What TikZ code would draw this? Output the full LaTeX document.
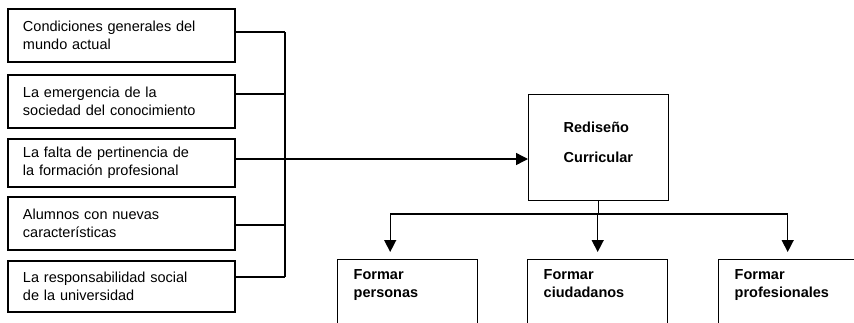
\documentclass[tikz,border=0pt]{standalone}
\usepackage{fontspec}
\setmainfont{Liberation Sans}
\usetikzlibrary{arrows.meta}
\tikzstyle{link} = [line width=1.4pt]
\tikzstyle{tri} = [-{Triangle[width=12pt,length=12pt]}]
\tikzstyle{cause} = [draw,line width=1.4pt,align=left,text width=197pt,inner xsep=15pt,minimum height=53pt,font=\fontsize{14.5}{18}\selectfont]
\tikzstyle{core} = [draw,line width=1.4pt,anchor=north west,align=left,text width=70pt,inner xsep=35pt,inner ysep=27pt,text depth=41pt,font=\bfseries\fontsize{14.5}{18}\selectfont]
\tikzstyle{goal} = [draw,line width=1.4pt,anchor=north west,align=left,text width=108pt,inner xsep=16pt,inner ysep=10pt,text depth=90pt,font=\bfseries\fontsize{14.5}{18}\selectfont]

\begin{document}
\begin{tikzpicture}[x=1pt,y=-1pt]
    \clip (0,0) rectangle (854,322);

    \node[cause] (c1) at (121.5,35.5) {Condiciones generales del\\mundo actual};
    \node[cause] (c2) at (121.5,101.5) {La emergencia de la\\sociedad del conocimiento};
    \node[cause,minimum height=48pt] (c3) at (121.5,163) {La falta de pertinencia de\\la formación profesional};
    \node[cause] (c4) at (121.5,223.5) {Alumnos con nuevas\\características};
    \node[cause,minimum height=51pt] (c5) at (121.5,286.5) {La responsabilidad social\\de la universidad};

    \node[core] (rc) at (528,94) {Rediseño\\[12pt]Curricular};

    \node[goal] (f1) at (337,259) {Formar\\personas};
    \node[goal] (f2) at (527,259) {Formar\\ciudadanos};
    \node[goal] (f3) at (718,259) {Formar\\profesionales};

    % causes to the bus
    \coordinate (bus) at (285,0);
    \coordinate (j1) at ([yshift=3.5pt]c1.east);
    \coordinate (j2) at ([yshift=7.5pt]c2.east);
    \coordinate (j3) at ([yshift=4pt]c3.east);
    \coordinate (j4) at ([yshift=-1.5pt]c4.east);
    \coordinate (j5) at ([yshift=9.5pt]c5.east);
    \foreach \j in {j1,j2,j4,j5}
     \draw[link] (\j) -- (\j -| bus);
    \draw[link] (j1 -| bus) -- (j5 -| bus);
    \draw[link,tri] (j3) -- (j3 -| rc.west);

    % redesign to goals
    \coordinate (split) at ([yshift=-13pt]rc.south);
    \draw[link] (rc.south) -- (split);
    \draw[link] ([xshift=-17.5pt]split -| f1.north) -- ([xshift=-1pt]split -| f3.north);
    \foreach \f/\dx in {f1/-17.5,f2/0,f3/-1}
     \draw[link,tri,shorten >=7pt] ([xshift=\dx pt]split -| \f.north) -- ([xshift=\dx pt]\f.north);
\end{tikzpicture}
\end{document}
